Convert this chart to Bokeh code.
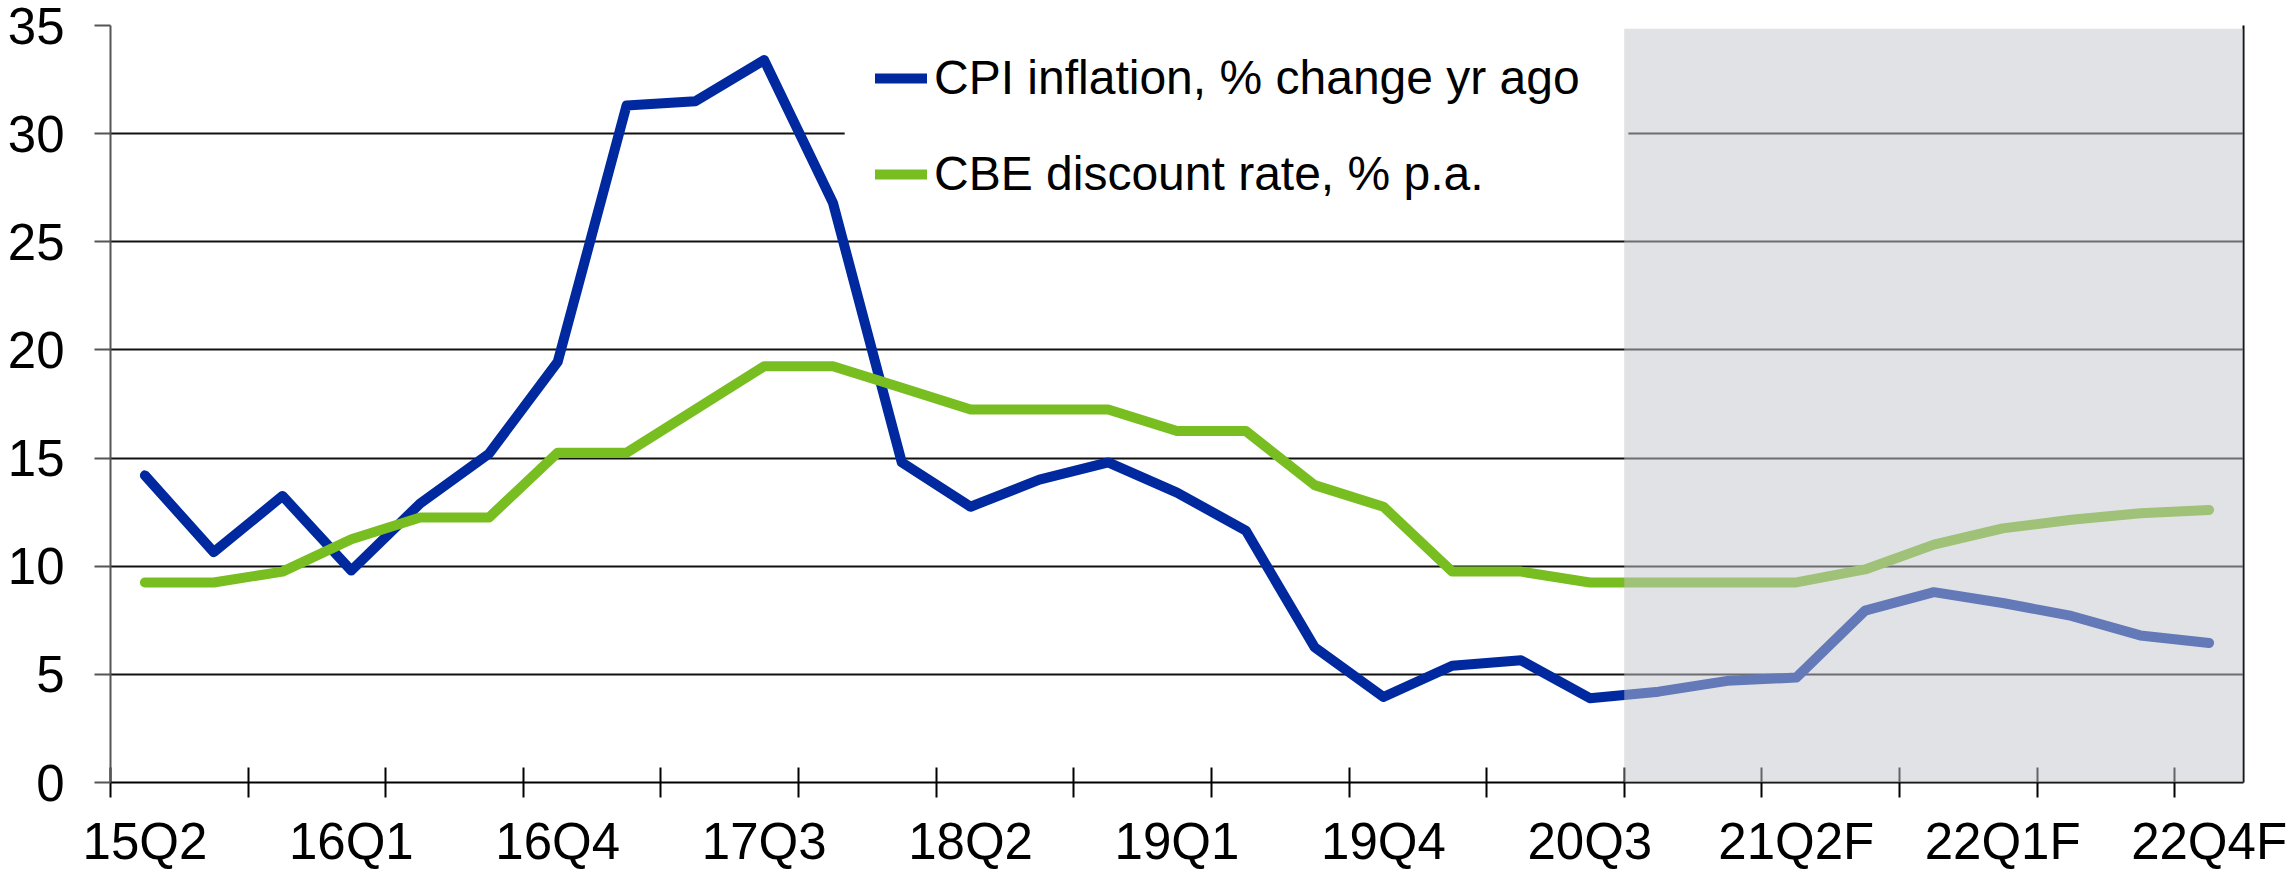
from bokeh.plotting import figure
from bokeh.models import Range1d, FixedTicker, LinearAxis, BoxAnnotation, Legend, LegendItem
from bokeh.embed import file_html
from bokeh.resources import INLINE

quarters = ["15Q2", "15Q3", "15Q4", "16Q1", "16Q2", "16Q3", "16Q4", "17Q1", "17Q2", "17Q3",
            "17Q4", "18Q1", "18Q2", "18Q3", "18Q4", "19Q1", "19Q2", "19Q3", "19Q4", "20Q1",
            "20Q2", "20Q3", "20Q4F", "21Q1F", "21Q2F", "21Q3F", "21Q4F", "22Q1F", "22Q2F",
            "22Q3F", "22Q4F"]
cpi = [14.2, 10.65, 13.25, 9.8, 12.9, 15.2, 19.45, 31.3, 31.5, 33.4,
       26.8, 14.8, 12.75, 14.0, 14.8, 13.4, 11.65, 6.25, 3.95, 5.4,
       5.65, 3.9, 4.2, 4.7, 4.85, 7.95, 8.8, 8.3, 7.7, 6.8, 6.45]
cbe = [9.25, 9.25, 9.75, 11.25, 12.25, 12.25, 15.25, 15.25, 17.25, 19.25,
       19.25, 18.25, 17.25, 17.25, 17.25, 16.25, 16.25, 13.75, 12.75, 9.75,
       9.75, 9.25, 9.25, 9.25, 9.25, 9.85, 11.0, 11.75, 12.15, 12.45, 12.6]
last_actual = "20Q3"
y_ticks = [0, 5, 10, 15, 20, 25, 30, 35]
series_names = ["CPI inflation, % change yr ago", "CBE discount rate, % p.a."]

FONT = "Liberation Sans"
BLUE = "#0029A0"
GREEN = "#78BE20"

n = len(quarters)
x = list(range(n))

p = figure(width=2292, height=873,
           x_range=Range1d(-0.5, n - 0.5), y_range=Range1d(0, 35),
           output_backend="svg", toolbar_location=None,
           min_border_left=110, min_border_right=49, min_border_top=25, min_border_bottom=91)
p.outline_line_color = None
p.background_fill_color = "white"
p.border_fill_color = "white"

p.xgrid.visible = False
p.ygrid.ticker = FixedTicker(ticks=y_ticks)
p.ygrid.grid_line_color = "#111111"
p.ygrid.grid_line_width = 2

xax = p.xaxis[0]
xax.ticker = FixedTicker(ticks=list(range(0, n, 3)),
                         minor_ticks=[i - 0.5 for i in range(0, n, 2)])
xax.major_label_overrides = {i: quarters[i] for i in range(0, n, 3)}
xax.axis_line_color = "black"
xax.axis_line_width = 2
xax.major_tick_in = 0
xax.major_tick_out = 0
xax.minor_tick_in = 15
xax.minor_tick_out = 15
xax.minor_tick_line_color = "black"
xax.minor_tick_line_width = 2
xax.major_label_standoff = 15
xax.major_label_text_font = FONT
xax.major_label_text_font_size = "51px"
xax.major_label_text_color = "black"

yax = p.yaxis[0]
yax.ticker = FixedTicker(ticks=y_ticks)
yax.axis_line_color = "#555555"
yax.axis_line_width = 2
yax.major_tick_in = 0
yax.major_tick_out = 16
yax.major_tick_line_color = "#555555"
yax.major_tick_line_width = 2
yax.minor_tick_line_color = None
yax.major_label_standoff = 30
yax.major_label_text_font = FONT
yax.major_label_text_font_size = "51px"
yax.major_label_text_color = "black"

rax = LinearAxis(ticker=FixedTicker(ticks=[]), axis_line_color="black", axis_line_width=2,
                 major_tick_in=0, major_tick_out=0, minor_tick_line_color=None)
p.add_layout(rax, "right")

# white legend background that hides the gridline behind the legend
p.add_layout(BoxAnnotation(left=10.17, right=21.56, bottom=25.6, top=34.6,
                           fill_color="white", fill_alpha=1.0, line_alpha=0,
                           level="underlay"))

r1 = p.line(x, cpi, line_color=BLUE, line_width=10, line_cap="round", line_join="round")
r2 = p.line(x, cbe, line_color=GREEN, line_width=10, line_cap="round", line_join="round")

legend = Legend(items=[LegendItem(label=series_names[0], renderers=[r1]),
                       LegendItem(label=series_names[1], renderers=[r2])],
                location=(765, 581), orientation="vertical",
                glyph_width=52, glyph_height=20, label_standoff=7, spacing=41,
                padding=0, margin=0,
                label_text_font=FONT, label_text_font_size="48px", label_text_color="black",
                background_fill_alpha=0, border_line_alpha=0)
p.add_layout(legend)

# forecast shading
p.add_layout(BoxAnnotation(left=quarters.index(last_actual) + 0.5, top=34.85,
                           fill_color=(196, 198, 206), fill_alpha=0.51, line_alpha=0))

open("out.html", "w").write(file_html(p, INLINE))
